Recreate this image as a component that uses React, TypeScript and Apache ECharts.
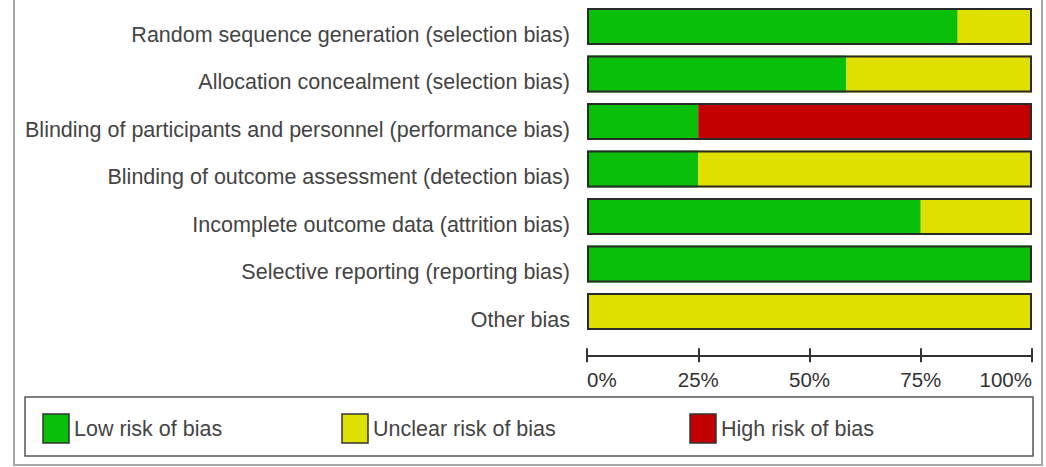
import React, { useEffect, useRef } from "react";
import * as echarts from "echarts";

const categories = [
  "Random sequence generation (selection bias)",
  "Allocation concealment (selection bias)",
  "Blinding of participants and personnel (performance bias)",
  "Blinding of outcome assessment (detection bias)",
  "Incomplete outcome data (attrition bias)",
  "Selective reporting (reporting bias)",
  "Other bias",
];
const lowRisk = [83.3, 58.3, 25, 25, 75, 100, 0];
const unclearRisk = [16.7, 41.7, 0, 75, 25, 0, 100];
const highRisk = [0, 0, 75, 0, 0, 0, 0];
const outline = [100, 100, 100, 100, 100, 100, 100];
const tickValues = [0, 25, 50, 75, 100];
const legendNames = ["Low risk of bias", "Unclear risk of bias", "High risk of bias"];

const GREEN = "#0ABF0A";
const YELLOW = "#E0E000";
const RED = "#C20000";
const FONT = "'Liberation Sans', Arial, sans-serif";

export default function App() {
  const ref = useRef<HTMLDivElement>(null);
  useEffect(() => {
    if (!ref.current) return;
    const chart = echarts.init(ref.current, null, { renderer: "svg" });
    const barW = 37;
    const legendColors = [GREEN, YELLOW, RED];
    const legendX = [43, 342, 690];
    const legendGraphics: any[] = [];
    legendNames.forEach((n, i) => {
      legendGraphics.push({
        type: "rect",
        shape: { x: legendX[i], y: 414, width: 26, height: 29 },
        style: { fill: legendColors[i], stroke: "#333", lineWidth: 1.5 },
      });
      legendGraphics.push({
        type: "text",
        x: legendX[i] + 31,
        y: 429,
        style: {
          text: n,
          fill: "#444",
          font: `21.5px ${FONT}`,
          textVerticalAlign: "middle",
          verticalAlign: "middle",
        },
      });
    });
    const option: any = {
      animation: false,
      backgroundColor: "#fff",
      grid: { left: 587, right: 14, top: 2.75, bottom: 131.75, containLabel: false },
      xAxis: [
        {
          type: "value",
          min: 0,
          max: 100,
          interval: 25,
          position: "bottom",
          offset: 20,
          axisLine: { show: true, lineStyle: { color: "#333", width: 2 } },
          axisTick: { show: true, length: 7, lineStyle: { color: "#333", width: 2 } },
          axisLabel: {
            show: true,
            formatter: (v: number) => (tickValues.includes(v) ? `${v}%` : ""),
            color: "#333",
            fontSize: 20.5,
            fontFamily: FONT,
            margin: 14,
            alignMinLabel: "left",
            alignMaxLabel: "right",
          },
          splitLine: { show: false },
        },
        {
          type: "value",
          min: 0,
          max: 100,
          interval: 25,
          position: "bottom",
          offset: 20,
          axisLine: { show: false },
          axisTick: { show: true, inside: true, length: 7, lineStyle: { color: "#333", width: 2 } },
          axisLabel: { show: false },
          splitLine: { show: false },
        },
      ],
      yAxis: {
        type: "category",
        data: categories,
        inverse: true,
        axisLine: { show: false },
        axisTick: { show: false },
        axisLabel: {
          margin: 17,
          formatter: (v: string) => `{a|${v}}`,
          rich: {
            a: {
              color: "#444",
              fontSize: 21.5,
              fontFamily: FONT,
              padding: [16, 0, 0, 0],
            },
          },
        },
      },
      series: [
        {
          name: legendNames[0],
          type: "bar",
          stack: "risk",
          data: lowRisk,
          barWidth: barW,
          barGap: "-100%",
          itemStyle: { color: GREEN },
        },
        {
          name: legendNames[1],
          type: "bar",
          stack: "risk",
          data: unclearRisk,
          barWidth: barW,
          itemStyle: { color: YELLOW },
        },
        {
          name: legendNames[2],
          type: "bar",
          stack: "risk",
          data: highRisk,
          barWidth: barW,
          itemStyle: { color: RED },
        },
        {
          name: "outline",
          type: "bar",
          data: outline,
          barWidth: barW,
          barGap: "-100%",
          z: 5,
          silent: true,
          itemStyle: { color: "rgba(0,0,0,0)", borderColor: "#2a2a2a", borderWidth: 2 },
        },
      ],
      graphic: [
        {
          type: "rect",
          shape: { x: 14, y: -10, width: 1028, height: 475 },
          style: { fill: "none", stroke: "#a8a8a8", lineWidth: 2 },
          z: -1,
        },
        {
          type: "rect",
          shape: { x: 25, y: 397, width: 1008, height: 59 },
          style: { fill: "none", stroke: "#555", lineWidth: 1.5 },
        },
        ...legendGraphics,
      ],
    };
    chart.setOption(option);
    return () => chart.dispose();
  }, []);
  return (
    <div
      ref={ref}
      style={{ position: "fixed", left: 0, top: 0, width: 1046, height: 467 }}
    />
  );
}
